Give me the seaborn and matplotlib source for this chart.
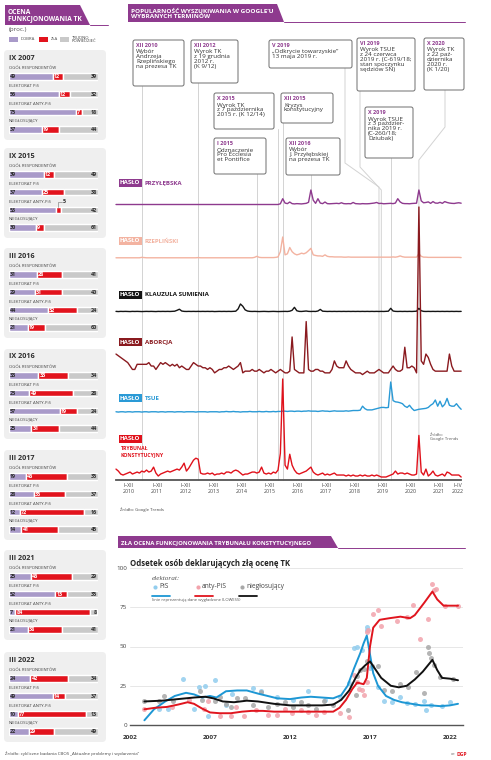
import matplotlib.pyplot as plt
from matplotlib.patches import FancyBboxPatch, Polygon, Rectangle
import pandas as pd
import seaborn as sns

sns.set_style('white')
plt.rcParams['font.family'] = ['Open Sans', 'DejaVu Sans']

# --- ocena funkcjonowania TK (CBOS), proc. ---
ankiety = ['IX 2007', 'IX 2015', 'III 2016', 'IX 2016', 'III 2017', 'III 2021', 'III 2022']
grupy = ['OGÓŁ RESPONDENTÓW', 'ELEKTORAT PiS', 'ELEKTORAT ANTY-PiS', 'NIEGŁOSUJĄCY']
dobra = [[49, 56, 75, 37], [39, 37, 53, 30], [31, 29, 44, 21], [33, 23, 57, 25],
         [19, 28, 12, 14], [25, 52, 7, 21], [24, 49, 10, 22]]
zla = [[12, 12, 7, 19], [12, 25, 5, 9], [28, 31, 32, 19], [33, 49, 19, 31],
       [46, 35, 72, 41], [46, 13, 84, 38], [42, 14, 77, 29]]
trudno = [[39, 32, 18, 44], [49, 38, 42, 61], [41, 40, 24, 60], [34, 28, 24, 44],
          [35, 37, 16, 45], [29, 35, 8, 41], [34, 37, 13, 49]]

# --- Google Trends, miesiecznie I 2010 - IV 2022 ---
okresy = ['I–XII\n2010', 'I–XII\n2011', 'I–XII\n2012', 'I–XII\n2013', 'I–XII\n2014',
          'I–XII\n2015', 'I–XII\n2016', 'I–XII\n2017', 'I–XII\n2018', 'I–XII\n2019',
          'I–XII\n2020', 'I–XII\n2021', 'I–IV\n2022']
przylebska = [0, 0, 0, 0, 0, 0, 0, 0, 0, 0, 0, 0,
              0, 0, 0, 0, 0, 0, 0, 0, 0, 0, 0, 0,
              0, 0, 0, 0, 0, 0, 0, 0, 0, 0, 0, 0,
              0, 0, 0, 0, 0, 0, 0, 0, 0, 0, 0, 0,
              0, 0, 0, 0, 0, 0, 0, 0, 0, 0, 0, 0,
              0, 0, 0, 0, 0, 0, 0, 0, 0, 0, 5, 40,
              10, 6, 17, 6, 4, 6, 5, 4, 6, 8, 15, 100,
              30, 8, 40, 10, 6, 17, 6, 5, 6, 7, 8, 6,
              12, 6, 5, 6, 5, 14, 6, 5, 4, 6, 5, 5,
              6, 8, 10, 14, 7, 8, 5, 6, 7, 8, 6, 10,
              40, 18, 8, 6, 6, 5, 7, 8, 9, 100, 25, 12,
              14, 18, 8, 20, 10, 9, 15, 8, 20, 14, 10, 8,
              7, 10, 12, 9]
rzeplinski = [1, 1, 1, 1, 1, 1, 1, 1, 1, 1, 1, 3,
              2, 1, 1, 1, 1, 1, 1, 1, 1, 1, 1, 1,
              1, 1, 1, 1, 1, 1, 1, 1, 1, 1, 1, 2,
              1, 1, 1, 1, 1, 1, 1, 1, 1, 1, 1, 1,
              1, 1, 1, 1, 1, 1, 1, 1, 1, 1, 1, 3,
              8, 3, 2, 2, 2, 2, 2, 2, 3, 5, 30, 100,
              15, 20, 50, 30, 20, 15, 18, 23, 20, 25, 35, 46,
              15, 12, 10, 10, 8, 15, 8, 6, 6, 5, 5, 5,
              5, 4, 4, 5, 4, 4, 4, 4, 4, 4, 4, 4,
              4, 4, 4, 4, 4, 4, 4, 4, 4, 4, 5, 4,
              6, 10, 6, 4, 4, 4, 4, 4, 4, 20, 8, 4,
              4, 3, 3, 3, 3, 3, 3, 3, 3, 3, 3, 3,
              3, 3, 3, 2]
klauzula = [18, 16, 18, 17, 18, 17, 16, 18, 17, 18, 17, 16,
            17, 18, 17, 18, 17, 16, 18, 17, 18, 17, 18, 17,
            18, 20, 30, 42, 22, 18, 17, 18, 17, 18, 17, 18,
            17, 18, 17, 18, 17, 18, 16, 17, 18, 17, 18, 17,
            18, 17, 18, 20, 45, 100, 75, 35, 22, 18, 17, 18,
            17, 16, 17, 18, 17, 16, 17, 18, 17, 16, 17, 18,
            18, 17, 20, 30, 63, 25, 18, 17, 20, 22, 18, 17,
            18, 17, 22, 40, 20, 18, 17, 18, 17, 18, 17, 18,
            17, 18, 17, 18, 17, 18, 17, 18, 17, 18, 17, 18,
            17, 18, 17, 18, 17, 18, 17, 18, 20, 52, 22, 18,
            17, 18, 17, 18, 17, 18, 17, 18, 20, 52, 25, 18,
            17, 18, 17, 18, 17, 18, 17, 18, 17, 18, 17, 18,
            17, 18, 17, 18]
aborcja = [14, 13, 12, 11, 10, 9, 7, 5, 5, 8, 8, 8,
           8, 8, 9, 7, 7, 5, 7, 9, 8, 9, 8, 7,
           8, 7, 8, 6, 7, 6, 5, 5, 7, 9, 8, 7,
           7, 6, 6, 5, 6, 5, 3, 4, 5, 5, 6, 6,
           7, 6, 5, 6, 7, 9, 3, 4, 4, 4, 5, 4,
           4, 5, 4, 3, 4, 4, 5, 4, 3, 4, 5, 4,
           3, 3, 4, 24, 5, 4, 3, 3, 3, 33, 5, 4,
           4, 5, 5, 4, 4, 3, 3, 3, 5, 10, 7, 6,
           6, 6, 10, 7, 5, 4, 3, 3, 3, 2, 3, 4,
           3, 3, 3, 4, 5, 4, 3, 3, 3, 5, 7, 5,
           4, 4, 5, 18, 6, 6, 7, 6, 3, 100, 10, 8,
           14, 12, 8, 5, 4, 4, 4, 4, 4, 4, 14, 7,
           4, 4, 4, 4]
tsue = [4, 3, 4, 4, 3, 4, 4, 3, 4, 4, 4, 3,
        4, 4, 3, 4, 4, 4, 3, 4, 4, 3, 4, 4,
        4, 3, 4, 4, 4, 3, 4, 4, 4, 4, 3, 4,
        4, 4, 4, 3, 4, 4, 4, 4, 3, 4, 4, 5,
        4, 4, 5, 4, 4, 3, 4, 4, 4, 5, 4, 4,
        4, 5, 4, 4, 5, 4, 4, 5, 4, 5, 5, 6,
        6, 5, 6, 6, 5, 6, 6, 5, 6, 6, 7, 6,
        6, 6, 5, 6, 7, 6, 6, 5, 6, 7, 6, 6,
        6, 6, 7, 6, 7, 8, 8, 8, 9, 22, 14, 10,
        10, 10, 12, 14, 16, 18, 18, 17, 18, 100, 40, 36,
        35, 33, 30, 22, 18, 25, 15, 8, 10, 12, 13, 14,
        15, 18, 25, 30, 42, 22, 38, 20, 28, 47, 25, 22,
        22, 30, 20, 12]
trybunal = [9, 7, 4, 3, 4, 5, 6, 4, 5, 6, 5, 7,
            6, 8, 6, 7, 11, 5, 2, 4, 5, 6, 7, 6,
            7, 8, 9, 8, 11, 15, 7, 10, 14, 18, 20, 19,
            5, 4, 4, 5, 4, 5, 3, 4, 4, 5, 4, 6,
            6, 5, 7, 8, 7, 5, 3, 4, 4, 5, 6, 6,
            5, 6, 11, 5, 4, 5, 4, 6, 5, 8, 25, 100,
            13, 9, 24, 13, 8, 5, 4, 5, 6, 7, 9, 11,
            6, 4, 3, 4, 5, 3, 4, 3, 4, 5, 3, 3,
            3, 3, 2, 3, 2, 3, 2, 2, 3, 2, 3, 2,
            2, 3, 2, 3, 2, 1, 1, 1, 2, 3, 4, 7,
            4, 5, 5, 4, 5, 4, 3, 3, 4, 43, 6, 3,
            9, 2, 4, 7, 3, 2, 3, 4, 2, 6, 5, 3,
            3, 3, 3, 1]

# --- odsetek zlych ocen TK wg elektoratu ---
pis_t = [2003.8, 2004.4, 2005.3, 2006.0, 2006.3, 2006.7, 2006.9, 2007.3, 2008.0, 2008.4,
         2009.7, 2010.2, 2011.2, 2012.2, 2013.1, 2014.2, 2015.1, 2015.7, 2016.0, 2016.2,
         2016.5, 2016.8, 2016.8, 2017.0, 2017.5, 2017.9, 2018.4, 2018.9, 2019.3, 2019.8,
         2020.4, 2020.5, 2020.8, 2021.5, 2022.0]
pis_v = [10, 10, 29, 10.5, 24.5, 25, 5.5, 28.5, 12.5, 19.5,
         23.5, 21.5, 18, 16, 21.5, 16, 18, 26.5, 49, 49.5,
         48, 60.5, 62.5, 36, 24.5, 15, 14.5, 18, 14, 13.5,
         15.5, 9.5, 12.5, 12, 14.5]
anty_t = [2002.9, 2004.6, 2005.7, 2006.6, 2006.9, 2007.6, 2008.3, 2008.6, 2009.1, 2009.9,
          2010.6, 2011.2, 2011.7, 2012.1, 2012.7, 2013.1, 2013.6, 2014.1, 2015.1, 2015.7,
          2016.0, 2016.2, 2016.3, 2016.5, 2016.6, 2016.8, 2016.8, 2016.9, 2017.2, 2017.5,
          2017.7, 2018.7, 2019.3, 2019.7, 2020.1, 2020.6, 2020.9, 2021.0, 2021.1, 2021.7,
          2022.5]
anty_v = [10, 11.5, 16, 10, 15, 6, 5.5, 11.5, 5.5, 9.5,
          6.5, 6.5, 10.5, 7.5, 9.5, 8.5, 6.5, 8.5, 7.5, 5,
          32, 27.5, 23, 22, 19, 27.5, 59, 60.5, 71, 73.5,
          63, 66.5, 69, 76.5, 55, 67.5, 90, 86, 86.5, 75.5,
          75.5]
nieg_t = [2002.9, 2003.8, 2004.1, 2004.7, 2006.4, 2006.5, 2007.3, 2007.6, 2008.0, 2008.3,
          2008.7, 2009.2, 2009.7, 2010.2, 2010.6, 2011.2, 2011.7, 2012.2, 2012.7, 2013.1,
          2013.6, 2014.1, 2014.7, 2015.6, 2016.1, 2016.2, 2016.4, 2016.6, 2016.8, 2017.1,
          2017.5, 2017.9, 2018.4, 2018.9, 2019.4, 2019.9, 2020.4, 2020.6, 2020.7, 2020.8,
          2021.0, 2021.4, 2022.2]
nieg_v = [15.5, 15, 18.5, 15, 21.5, 16, 15, 18, 13.5, 11.5,
          17.5, 17, 12.5, 21, 11.5, 13.5, 14.5, 11.5, 14.5, 13,
          10, 15.5, 13, 9.5, 19, 31, 35, 35.5, 40.5, 37.5,
          37.5, 22.5, 21.5, 26, 24, 33.5, 20.5, 49.5, 46, 42.5,
          38, 30.5, 29.5]

# linie wygladzone (LOWESS)
pis_lt = [2002.9, 2003.5, 2004.2, 2004.8, 2005.5, 2006.0, 2006.5, 2007.0, 2007.4, 2008.0,
          2008.7, 2009.3, 2010.0, 2010.6, 2011.2, 2012.0, 2012.7, 2013.3, 2014.0, 2014.7,
          2015.2, 2015.6, 2016.0, 2016.4, 2016.6, 2016.8, 2017.0, 2017.2, 2017.5, 2018.0,
          2018.5, 2019.0, 2019.6, 2020.2, 2020.8, 2021.4, 2022.0, 2022.5]
pis_lv = [3, 10, 15, 18.5, 20.5, 19.5, 17.5, 18.5, 17.5, 21.5,
          22, 22, 20, 18.5, 17, 16.5, 17.5, 18, 17.5, 17,
          19, 25, 36, 46, 52, 57, 45, 33, 25, 18.5,
          16, 14.5, 13.5, 12.5, 12.5, 12, 12.5, 13.5]
anty_lt = [2002.9, 2003.6, 2004.3, 2005.0, 2005.6, 2006.0, 2006.5, 2007.0, 2007.6, 2008.3,
           2009.0, 2009.6, 2010.3, 2011.0, 2012.0, 2013.0, 2014.0, 2014.7, 2015.1, 2015.5,
           2015.9, 2016.2, 2016.6, 2016.8, 2017.0, 2017.2, 2017.6, 2018.2, 2018.9, 2019.5,
           2019.8, 2020.4, 2020.9, 2021.2, 2021.6, 2022.0, 2022.5]
anty_lv = [10, 11, 11.5, 13, 14.5, 13.5, 10.5, 8, 7.5, 7.5,
           8.5, 9, 9, 8.5, 8.5, 8.5, 8.5, 8.5, 11, 16,
           23, 27, 26, 30, 50, 62, 67, 68, 69, 68,
           70, 78, 85, 80, 76, 76, 76]
nieg_lt = [2002.9, 2004.0, 2005.0, 2006.0, 2006.7, 2007.2, 2007.8, 2008.5, 2009.3, 2010.0,
           2011.0, 2012.0, 2013.0, 2014.0, 2014.7, 2015.2, 2015.7, 2016.1, 2016.4, 2016.7,
           2017.0, 2017.3, 2017.7, 2018.3, 2018.8, 2019.3, 2019.8, 2020.3, 2020.9, 2021.2,
           2021.5, 2022.0, 2022.5]
nieg_lv = [15, 15.5, 16.5, 17.5, 18, 17, 15, 14.5, 15.5, 15,
           13.5, 12.5, 12.5, 12.5, 13, 16, 22, 30, 35, 38,
           40.5, 36, 30, 25, 24, 25, 29, 34, 41.5, 35,
           30, 29.5, 28.5]

W, H = 491, 760
FIO = '#8E3A8E'
C_DOBRA, C_ZLA, C_TRUDNO = '#A99AC9', '#E2131D', '#C9C9C9'
CIEMNY = '#2E2E2E'

fig = plt.figure(figsize=(W / 100, H / 100), dpi=100)


def px(x, y, w, h):
    return [x / W, 1 - (y + h) / H, w / W, h / H]


bg = fig.add_axes([0, 0, 1, 1])
bg.set_xlim(0, W)
bg.set_ylim(H, 0)
bg.axis('off')


def naglowek(x0, y0, x1, y1, skos, koniec, txt, fs):
    bg.add_patch(Polygon([(x0, y0), (x1, y0), (x1 + skos, y1), (x0, y1)], closed=True, fc=FIO, ec='none'))
    bg.plot([x1 + skos, koniec], [y1 - 0.4, y1 - 0.4], color=FIO, lw=0.7)
    bg.text(x0 + 3, (y0 + y1) / 2 + 0.5, txt, color='white', fontsize=fs, fontweight='bold',
            va='center', ha='left', linespacing=0.95)


# ---------- lewa kolumna: ocena TK ----------
naglowek(5, 5, 80, 25, 10, 108, 'OCENA\nFUNKCJONOWANIA TK', 4.8)
bg.text(9, 30, '(proc.)', fontsize=4.5, color='#555555', va='center')
for x, c, t in [(9, C_DOBRA, 'DOBRA'), (39, C_ZLA, 'ZŁA'), (60, C_TRUDNO, 'TRUDNO\nPOWIEDZIEĆ')]:
    bg.add_patch(Rectangle((x, 37), 9, 5, fc=c, ec='none'))
    bg.text(x + 11.5, 39.5, t, fontsize=3.1, color='#444444', va='center', linespacing=0.95)

tops = [50, 148, 248, 349, 450, 550, 652]
axb = fig.add_axes(px(9, 0, 89, H))
axb.set_xlim(0, 100)
axb.set_ylim(H, 0)
axb.axis('off')
for k, (ank, top) in enumerate(zip(ankiety, tops)):
    bg.add_patch(FancyBboxPatch((4, top), 102, 90, boxstyle='round,pad=0,rounding_size=4',
                                fc='#EFEFEF', ec='none', zorder=0))
    bg.text(9, top + 8, ank, fontsize=5.2, fontweight='bold', color=CIEMNY, va='center')
    ycs = [top + 26.5 + 17.7 * i for i in range(4)]
    d, z, t = dobra[k], zla[k], trudno[k]
    dz = [a + b for a, b in zip(d, z)]
    axb.barh(ycs, d, height=6.5, color=C_DOBRA)
    axb.barh(ycs, z, left=d, height=6.5, color=C_ZLA)
    axb.barh(ycs, t, left=dz, height=6.5, color=C_TRUDNO)
    for i, yc in enumerate(ycs):
        bg.text(9, yc - 8.3, grupy[i], fontsize=3.1, color='#444444', va='center')
        axb.text(1.2, yc + 0.2, str(d[i]), fontsize=3.9, fontweight='bold', color=CIEMNY, va='center')
        if z[i] >= 6:
            axb.text(d[i] + 1.2, yc + 0.2, str(z[i]), fontsize=3.9, fontweight='bold', color='white', va='center')
        else:
            xm = d[i] + z[i] / 2
            axb.plot([xm, xm, xm + 4], [yc - 3.3, yc - 8.3, yc - 8.3], color='#888888', lw=0.5)
            axb.text(xm + 5, yc - 8.1, str(z[i]), fontsize=3.9, fontweight='bold', color=CIEMNY, va='center')
        axb.text(98.8, yc + 0.2, str(t[i]), fontsize=3.9, fontweight='bold', color=CIEMNY, va='center', ha='right')

bg.text(5, 754, 'Źródło: cykliczne badania CBOS „Aktualne problemy i wydarzenia”', fontsize=3.2,
        color='#444444', va='center')

# ---------- Google Trends ----------
X0, DX = 116, 2.348


def mpx(m):
    return X0 + DX * m


naglowek(128, 4, 277, 22, 7, 465, 'POPULARNOŚĆ WYSZUKIWANIA W GOOGLE’U\nWYBRANYCH TERMINÓW', 4.6)

wydarzenia = [
    ('XII 2010', 'Wybór\nAndrzeja\nRzeplińskiego\nna prezesa TK', (133, 40, 51, 46), 11, [(mpx(11), 86)]),
    ('XII 2012', 'Wyrok TK\nz 19 grudnia\n2012 r.\n(K 9/12)', (191, 40, 47, 43), 35, [(mpx(35), 83)]),
    ('V 2019', '„Odkrycie towarzyskie”\n13 maja 2019 r.', (269, 40, 83, 28), 112,
     [(345, 68), (345, 163), (mpx(112), 187)]),
    ('VI 2019', 'Wyrok TSUE\nz 24 czerwca\n2019 r. (C-619/18;\nstan spoczynku\nsędziów SN)',
     (357, 38, 58, 53), 113, [(360, 91), (360, 167), (mpx(113), 190)]),
    ('X 2020', 'Wyrok TK\nz 22 paź-\ndziernika\n2020 r.\n(K 1/20)', (424, 38, 40, 52), 129,
     [(445, 90), (445, 127), (mpx(129), 160)]),
    ('X 2015', 'Wyrok TK\nz 7 października\n2015 r. (K 12/14)', (214, 93, 60, 36), 69, [(mpx(69), 129)]),
    ('XII 2015', 'Kryzys\nkonstytucyjny', (281, 93, 52, 30), 71, [(mpx(71), 123)]),
    ('I 2015', 'Odznaczenie\nPro Ecclesia\net Pontifice', (214, 138, 52, 36), 60, [(mpx(60), 174)]),
    ('XII 2016', 'Wybór\nJ. Przyłębskiej\nna prezesa TK', (286, 138, 54, 37), 83, [(mpx(83), 175)]),
    ('X 2019', 'Wyrok TSUE\nz 3 paździer-\nnika 2019 r.\n(C-260/18;\nDziubak)', (365, 107, 48, 51), 117,
     [(mpx(117), 158)]),
]
for tyt, opis, (bx, by, bw, bh), m, sciezka in wydarzenia:
    pts = sciezka + [(mpx(m), 480)]
    bg.plot([p[0] for p in pts], [p[1] for p in pts], color='#D3D3D3', lw=0.7, zorder=1)
    bg.add_patch(FancyBboxPatch((bx, by), bw, bh, boxstyle='round,pad=0,rounding_size=2',
                                fc='white', ec='#6E6E6E', lw=0.7, zorder=2))
    bg.text(bx + 3, by + 5.5, tyt, fontsize=4.0, fontweight='bold', color=FIO, va='center', zorder=3)
    bg.text(bx + 3, by + 9.5, opis, fontsize=4.5, color='#333333', va='top', linespacing=0.95, zorder=3)

hasla = [
    ('PRZYŁĘBSKA', przylebska, '#8E3A8E', 204.5, 190, 183),
    ('RZEPLIŃSKI', rzeplinski, '#F3B3A1', 258, 237, 241),
    ('KLAUZULA SUMIENIA', klauzula, '#141414', 313, 304, 295),
    ('TSUE', tsue, '#2A9AD6', 413, 382, 398),
    ('', trybunal, '#E0111B', 478, 379, 439),
    ('ABORCJA', aborcja, '#8A1A1F', 378, 207, 342),
]
for nazwa, wart, kol, y0, y100, ly in hasla:
    ax = fig.add_axes(px(X0, y100, DX * 147, y0 - y100))
    df = pd.DataFrame({'miesiac': list(range(len(wart))), 'wartosc': wart})
    sns.lineplot(data=df, x='miesiac', y='wartosc', color=kol, lw=1.0, ax=ax)
    for ln in ax.lines:
        ln.set_clip_on(False)
    ax.set_xlim(0, 147)
    ax.set_ylim(0, 100)
    ax.axis('off')
    ax.patch.set_alpha(0)
    bg.text(120, ly, 'HASŁO', color='white', fontsize=4.4, fontweight='bold', va='center',
            bbox=dict(boxstyle='square,pad=0.22', fc=kol, ec='none'))
    if nazwa:
        bg.text(145, ly, nazwa, color=kol, fontsize=4.4, fontweight='bold', va='center')
bg.text(121, 451.5, 'TRYBUNAŁ\nKONSTYTUCYJNY', color='#E0111B', fontsize=3.7, fontweight='bold',
        va='center', linespacing=1.1)
bg.text(430, 437, 'Źródło:\nGoogle Trends', fontsize=3.0, color='#555555', va='center', linespacing=1.0)
bg.text(120, 510, 'Źródło: Google Trends', fontsize=3.1, color='#444444', va='center')

axx = fig.add_axes(px(X0, 470, DX * 147, 10))
axx.set_xlim(0, 147)
axx.set_ylim(0, 1)
axx.patch.set_alpha(0)
for s in ['left', 'top', 'right']:
    axx.spines[s].set_visible(False)
axx.spines['bottom'].set_color('#555555')
axx.spines['bottom'].set_linewidth(1.3)
axx.set_yticks([])
axx.set_xticks([11.5 + 12 * k for k in range(12)])
axx.set_xticklabels([])
axx.set_xticks([5.5 + 12 * k for k in range(12)] + [145.5], minor=True)
axx.set_xticklabels(okresy, minor=True)
axx.tick_params(which='major', length=4, width=0.6, color='#555555', direction='inout')
axx.tick_params(which='minor', length=0, labelsize=3.8, labelcolor='#444444', pad=2.5)

# ---------- zla ocena TK ----------
naglowek(118, 536, 331, 548, 7, 465, 'ZŁA OCENA FUNKCJONOWANIA TRYBUNAŁU KONSTYTUCYJNEGO', 4.3)

axc = fig.add_axes(px(130, 568, 333, 157))
punkty = [(pis_t, pis_v, '#92CDEE'), (anty_t, anty_v, '#F2A3AC'), (nieg_t, nieg_v, '#A8A8A8')]
for t, v, kol in punkty:
    sns.scatterplot(x=t, y=v, color=kol, s=13, alpha=0.85, linewidth=0, ax=axc)
linie = [(pis_lt, pis_lv, '#1D97D4'), (anty_lt, anty_lv, '#E0151E'), (nieg_lt, nieg_lv, '#111111')]
for t, v, kol in linie:
    sns.lineplot(x=t, y=v, color=kol, lw=1.4, sort=False, ax=axc)
axc.set_xlim(2002, 2002 + 333 / 16)
axc.set_ylim(0, 100)
axc.set_yticks([0, 25, 50, 75, 100])
axc.yaxis.grid(True, color='#E3E3E3', lw=0.6)
axc.set_axisbelow(True)
axc.set_xticks([2002, 2007, 2012, 2017, 2022])
axc.set_xticks(list(range(2002, 2023)), minor=True)
for s in ['left', 'top', 'right']:
    axc.spines[s].set_visible(False)
axc.spines['bottom'].set_color('#555555')
axc.spines['bottom'].set_linewidth(1.0)
axc.tick_params(axis='y', length=0, labelsize=4.5, labelcolor='#444444', pad=2)
axc.tick_params(axis='x', which='major', length=5, width=0.7, color='#555555', labelsize=4.6,
                labelcolor='#333333', pad=2)
axc.tick_params(axis='x', which='minor', length=2.5, width=0.6, color='#555555')
for lab in axc.get_xticklabels():
    lab.set_fontweight('bold')
axc.patch.set_alpha(0)

bg.text(130, 563, 'Odsetek osób deklarujących złą ocenę TK', fontsize=5.6, fontweight='bold',
        color='#222222', va='center')
bg.text(152, 578, 'elektorat:', fontsize=5.2, style='italic', family='Liberation Serif',
        color='#555555', va='center')
for x, kp, kl, t in [(155, '#92CDEE', '#1D97D4', 'PiS'), (198, '#F2A3AC', '#E0151E', 'anty-PiS'),
                     (242, '#A8A8A8', '#111111', 'niegłosujący')]:
    bg.scatter([x], [587], s=9, color=kp, linewidth=0)
    bg.text(x + 4, 587, t, fontsize=4.8, color='#444444', va='center')
    bg.plot([x - 2.5, x + 15], [595.5, 595.5], color=kl, lw=1.3)
bg.text(152, 600, 'linie reprezentują dane wygładzone (LOWESS)', fontsize=3.0, color='#555555', va='center')

bg.text(451, 754, 'ee', fontsize=3.0, color='#777777', va='center')
bg.text(457, 754, 'DGP', fontsize=3.6, color='#E0151E', fontweight='bold', va='center')

fig.savefig('out.png', dpi=100)
